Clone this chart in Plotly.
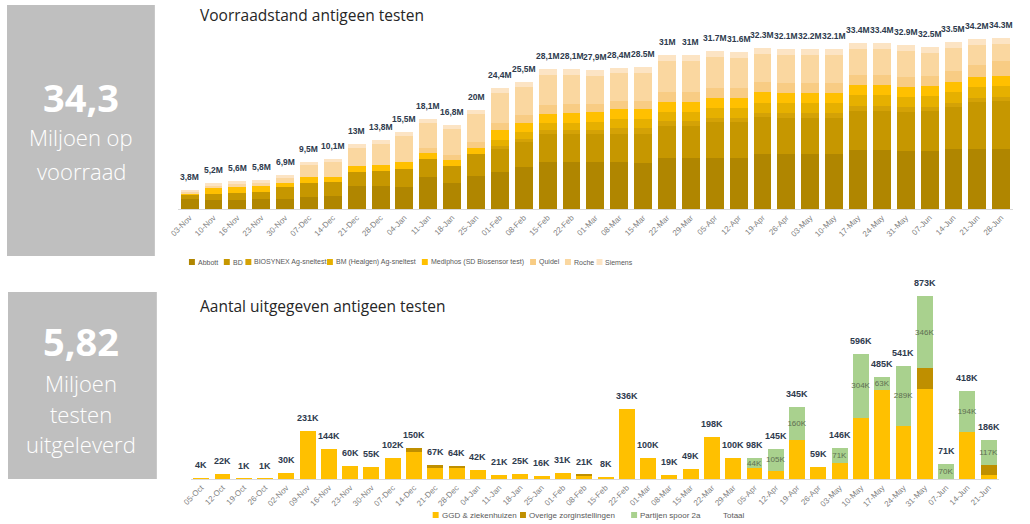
import plotly.graph_objects as go

# ---------------- Top chart: stock ----------------
stock_dates = ["03-Nov", "10-Nov", "16-Nov", "23-Nov", "30-Nov", "07-Dec", "14-Dec", "21-Dec", "28-Dec",
               "04-Jan", "11-Jan", "18-Jan", "25-Jan", "01-Feb", "08-Feb", "15-Feb", "22-Feb",
               "01-Mar", "08-Mar", "15-Mar", "22-Mar", "29-Mar", "05-Apr", "12-Apr", "19-Apr", "26-Apr",
               "03-May", "10-May", "17-May", "24-May", "31-May", "07-Jun", "14-Jun", "21-Jun", "28-Jun"]
stock_totals = [3.8, 5.2, 5.6, 5.8, 6.9, 9.5, 10.1, 13.0, 13.8, 15.5, 18.1, 16.8, 20.0, 24.4, 25.5, 28.1, 28.1,
                27.9, 28.4, 28.5, 31.0, 31.0, 31.7, 31.6, 32.3, 32.1, 32.2, 32.1, 33.4, 33.4, 32.9, 32.5, 33.5, 34.2, 34.3]
stock_labels = ["3,8M", "5,2M", "5,6M", "5,8M", "6,9M", "9,5M", "10,1M", "13M", "13,8M", "15,5M", "18,1M", "16,8M",
                "20M", "24,4M", "25,5M", "28,1M", "28,1M", "27,9M", "28,4M", "28.5M", "31M", "31M", "31.7M", "31.6M",
                "32.3M", "32.1M", "32.2M", "32.1M", "33.4M", "33.4M", "32.9M", "32.5M", "33.5M", "34.2M", "34.3M"]
abbott = [2.1, 1.9, 1.9, 2.0, 2.1, 2.5, 2.6, 4.6, 4.6, 4.4, 6.5, 5.2, 6.6, 7.5, 8.4, 9.5, 9.5,
          9.4, 9.4, 9.3, 10.3, 10.2, 10.3, 10.3, 11.0, 11.0, 11.0, 11.0, 11.9, 11.9, 11.7, 11.7, 12.0, 12.1, 12.1]
bd = [0.8, 1.2, 1.4, 1.4, 2.3, 2.7, 2.8, 2.9, 3.1, 3.7, 3.5, 3.4, 4.4, 4.5, 5.0, 5.5, 5.6,
      5.6, 5.6, 5.7, 6.4, 6.5, 7.2, 7.2, 7.5, 7.4, 7.4, 7.4, 7.9, 7.9, 7.9, 8.0, 8.5, 9.4, 9.6]
biosynex = [0, 0, 0, 0, 0, 0, 0, 0, 0, 0, 0, 0, 0, 0.6, 0.7, 0.8, 0.8,
            0.9, 1.3, 1.3, 1.0, 1.0, 0.9, 0.9, 0.9, 0.9, 0.9, 0.9, 0.9, 0.9, 0.9, 0.9, 0.9, 0.9, 0.9]
bm_healgen = [0, 0, 0, 0, 0, 0, 0, 0, 0, 0, 0, 0, 0, 1.3, 1.3, 1.4, 1.4,
              1.5, 1.8, 1.8, 1.8, 1.8, 1.9, 1.9, 2.0, 2.0, 2.0, 2.0, 2.2, 2.2, 2.1, 2.1, 2.1, 2.1, 2.1]
mediphos = [0.3, 1.2, 1.2, 1.2, 0.9, 1.2, 1.1, 1.2, 1.1, 1.4, 1.2, 1.2, 1.3, 1.9, 1.9, 2.0, 2.0,
            2.1, 2.1, 2.1, 2.0, 2.0, 2.1, 2.1, 2.1, 2.1, 2.1, 2.1, 2.0, 2.0, 2.0, 2.0, 2.0, 2.0, 2.0]
quidel = [0, 0, 0, 0, 0, 0, 0, 0, 0, 0, 1.0, 1.0, 1.2, 1.5, 1.6, 1.8, 1.8,
          1.7, 1.6, 1.6, 2.0, 2.0, 2.0, 2.0, 2.0, 2.0, 2.0, 2.0, 2.0, 2.0, 2.0, 2.0, 2.2, 2.5, 3.0]
roche = [0.4, 0.5, 0.6, 0.7, 1.0, 2.4, 2.9, 3.6, 4.2, 5.2, 5.1, 5.2, 5.6, 6.1, 5.6, 6.0, 5.9,
         5.6, 5.5, 5.6, 6.3, 6.3, 6.1, 6.0, 5.6, 5.5, 5.6, 5.5, 5.3, 5.3, 5.1, 4.6, 4.6, 4.0, 3.4]
siemens = [0.2, 0.4, 0.5, 0.5, 0.6, 0.7, 0.7, 0.7, 0.8, 0.8, 0.8, 0.8, 0.9, 1.0, 1.0, 1.1, 1.1,
           1.1, 1.1, 1.1, 1.2, 1.2, 1.2, 1.2, 1.2, 1.2, 1.2, 1.2, 1.2, 1.2, 1.2, 1.2, 1.2, 1.2, 1.2]
stock_series = [
    ("Abbott", abbott, "#B08600"),
    ("BD", bd, "#C69700"),
    ("BIOSYNEX Ag-sneltest", biosynex, "#D4A206"),
    ("BM (Healgen) Ag-sneltest", bm_healgen, "#E6B000"),
    ("Mediphos (SD Biosensor test)", mediphos, "#FFC000"),
    ("Quidel", quidel, "#F8CC84"),
    ("Roche", roche, "#FAD7A0"),
    ("Siemens", siemens, "#FCE4C4"),
]

# ---------------- Bottom chart: issued ----------------
issue_dates = ["05-Oct", "12-Oct", "19-Oct", "26-Oct", "02-Nov", "09-Nov", "16-Nov", "23-Nov", "30-Nov",
               "07-Dec", "14-Dec", "21-Dec", "28-Dec", "04-Jan", "11-Jan", "18-Jan", "25-Jan", "01-Feb",
               "08-Feb", "15-Feb", "22-Feb", "01-Mar", "08-Mar", "15-Mar", "22-Mar", "29-Mar", "05-Apr",
               "12-Apr", "19-Apr", "26-Apr", "03-May", "10-May", "17-May", "24-May", "31-May", "07-Jun",
               "14-Jun", "21-Jun"]
issue_totals = [4, 22, 1, 1, 30, 231, 144, 60, 55, 102, 150, 67, 64, 42, 21, 25, 16, 31, 21, 8, 336, 100, 19, 49,
                198, 100, 98, 145, 345, 59, 146, 596, 485, 541, 873, 71, 418, 186]
ggd = [4, 22, 1, 1, 30, 231, 144, 60, 55, 102, 131, 54, 53, 42, 21, 25, 16, 31, 17, 8, 336, 100, 19, 49,
       198, 100, 54, 40, 185, 59, 75, 292, 422, 252, 428, 1, 224, 19]
overige = [0, 0, 0, 0, 0, 0, 0, 0, 0, 0, 19, 13, 11, 0, 0, 0, 0, 0, 4, 0, 0, 0, 0, 0,
           0, 0, 0, 0, 0, 0, 0, 0, 0, 0, 99, 0, 0, 50]
spoor2a = [0, 0, 0, 0, 0, 0, 0, 0, 0, 0, 0, 0, 0, 0, 0, 0, 0, 0, 0, 0, 0, 0, 0, 0,
           0, 0, 44, 105, 160, 0, 71, 304, 63, 289, 346, 70, 194, 117]
spoor2a_labels = ["" if v == 0 else f"{v}K" for v in spoor2a]
issue_labels = [f"{v}K" for v in issue_totals]
issue_series = [
    ("GGD & ziekenhuizen", ggd, "#FFC000"),
    ("Overige zorginstellingen", overige, "#BF8F00"),
    ("Partijen spoor 2a", spoor2a, "#A9D18E"),
]

LABEL_COL = "#2E3A4D"
TICK_COL = "#7F7F7F"
LEG_COL = "#595959"
W, H = 1030, 524
OFFX = 8  # the viewer shows the page shifted right by this many pixels


def px_x(p):
    return (p - OFFX) / W


def px_y(p):
    return 1 - p / H


fig = go.Figure()

for name, vals, col in stock_series:
    fig.add_trace(go.Bar(x=stock_dates, y=vals, name=name, marker=dict(color=col, line=dict(width=0)),
                         xaxis="x", yaxis="y", showlegend=False, hoverinfo="skip"))

for name, vals, col in issue_series:
    kw = {}
    if name == "Partijen spoor 2a":
        kw = dict(text=spoor2a_labels, textposition="inside", insidetextanchor="middle", textangle=0,
                  insidetextfont=dict(family="Liberation Sans", size=8, color="#5E6E52"))
    fig.add_trace(go.Bar(x=issue_dates, y=vals, name=name, marker=dict(color=col, line=dict(width=0)),
                         xaxis="x2", yaxis="y2", showlegend=False, hoverinfo="skip", **kw))

# total value labels above the stacks
for d, t, lab in zip(stock_dates, stock_totals, stock_labels):
    fig.add_annotation(x=d, y=t, text=lab, xref="x", yref="y", showarrow=False, yanchor="middle", yshift=13,
                       font=dict(family="Liberation Sans", size=8.5, color=LABEL_COL, weight="bold"))
for d, t, lab in zip(issue_dates, issue_totals, issue_labels):
    fig.add_annotation(x=d, y=t, text=lab, xref="x2", yref="y2", showarrow=False, yanchor="middle", yshift=13,
                       font=dict(family="Liberation Sans", size=9, color=LABEL_COL, weight="bold"))

axis_common = dict(showgrid=False, zeroline=False, ticks="", showline=True, linecolor="#D9D9D9", linewidth=1,
                   tickangle=-45, tickfont=dict(family="Liberation Sans", size=8, color=TICK_COL), type="category")

fig.update_layout(
    width=W, height=H,
    margin=dict(l=0, r=0, t=0, b=0),
    paper_bgcolor="white", plot_bgcolor="white",
    barmode="stack", bargap=0.25,
    uniformtext=dict(minsize=8, mode="show"),
    xaxis=dict(domain=[px_x(179), px_x(1021)], anchor="y", range=[-0.5, 34.5], **axis_common),
    yaxis=dict(domain=[px_y(209), px_y(30)], anchor="x", range=[0, 36], visible=False),
    xaxis2=dict(domain=[px_x(192), px_x(1007)], anchor="y2", range=[-0.5, 37.5], **axis_common),
    yaxis2=dict(domain=[px_y(479), px_y(285)], anchor="x2", range=[0, 925], visible=False),
    showlegend=False,
)


# Manual compact legends (squares + text), laid out left to right
def add_legend(items, center_px, y_px, size, sq=6, cwf=0.5, gap=7):
    cw = cwf * size
    widths = [sq + 3 + len(n) * cw + gap for n, _ in items]
    x = center_px - sum(widths) / 2
    for (name, col), w in zip(items, widths):
        if col is not None:
            fig.add_shape(type="rect", xref="paper", yref="paper",
                          x0=px_x(x), x1=px_x(x + sq), y0=px_y(y_px + sq / 2), y1=px_y(y_px - sq / 2),
                          fillcolor=col, line=dict(width=0))
        fig.add_annotation(text=name, xref="paper", yref="paper", x=px_x(x + sq + 1), y=px_y(y_px),
                           showarrow=False, xanchor="left", yanchor="middle",
                           font=dict(family="Liberation Sans", size=size, color=LEG_COL))
        x += w


add_legend([(n, c) for n, _, c in stock_series], 415, 262, 7, cwf=0.48, gap=6)
add_legend([(n, c) for n, _, c in issue_series] + [("Totaal", None)], 598, 515, 8)

# Left KPI boxes
fig.add_shape(type="rect", xref="paper", yref="paper", x0=px_x(7), x1=px_x(156), y0=px_y(256), y1=px_y(5),
              fillcolor="#BFBFBF", line=dict(width=0), layer="below")
fig.add_shape(type="rect", xref="paper", yref="paper", x0=px_x(8), x1=px_x(158), y0=px_y(479), y1=px_y(292),
              fillcolor="#BFBFBF", line=dict(width=0), layer="below")

kpi = [
    ("34,3", 97, 38, "bold"),
    ("Miljoen op", 137, 22, 300),
    ("voorraad", 171, 22, 300),
    ("5,82", 341, 38, "bold"),
    ("Miljoen", 383, 22, 300),
    ("testen", 414, 22, 300),
    ("uitgeleverd", 444, 22, 300),
]
for txt, yy, sz, wt in kpi:
    fig.add_annotation(text=txt, xref="paper", yref="paper", x=px_x(82), y=px_y(yy), showarrow=False,
                       xanchor="center", yanchor="middle",
                       font=dict(family="Open Sans", size=sz, color="white", weight=wt))

fig.add_annotation(text="Voorraadstand antigeen testen", xref="paper", yref="paper", x=px_x(199), y=px_y(15),
                   showarrow=False, xanchor="left", yanchor="middle",
                   font=dict(family="Open Sans", size=15.5, color="#262626"))
fig.add_annotation(text="Aantal uitgegeven antigeen testen", xref="paper", yref="paper", x=px_x(199), y=px_y(306),
                   showarrow=False, xanchor="left", yanchor="middle",
                   font=dict(family="Open Sans", size=15.5, color="#262626"))

fig.write_html("out.html", config={"displayModeBar": False},
               post_script="document.body.style.margin='0';document.body.style.padding='0';"
                           "document.body.style.overflow='hidden';")
